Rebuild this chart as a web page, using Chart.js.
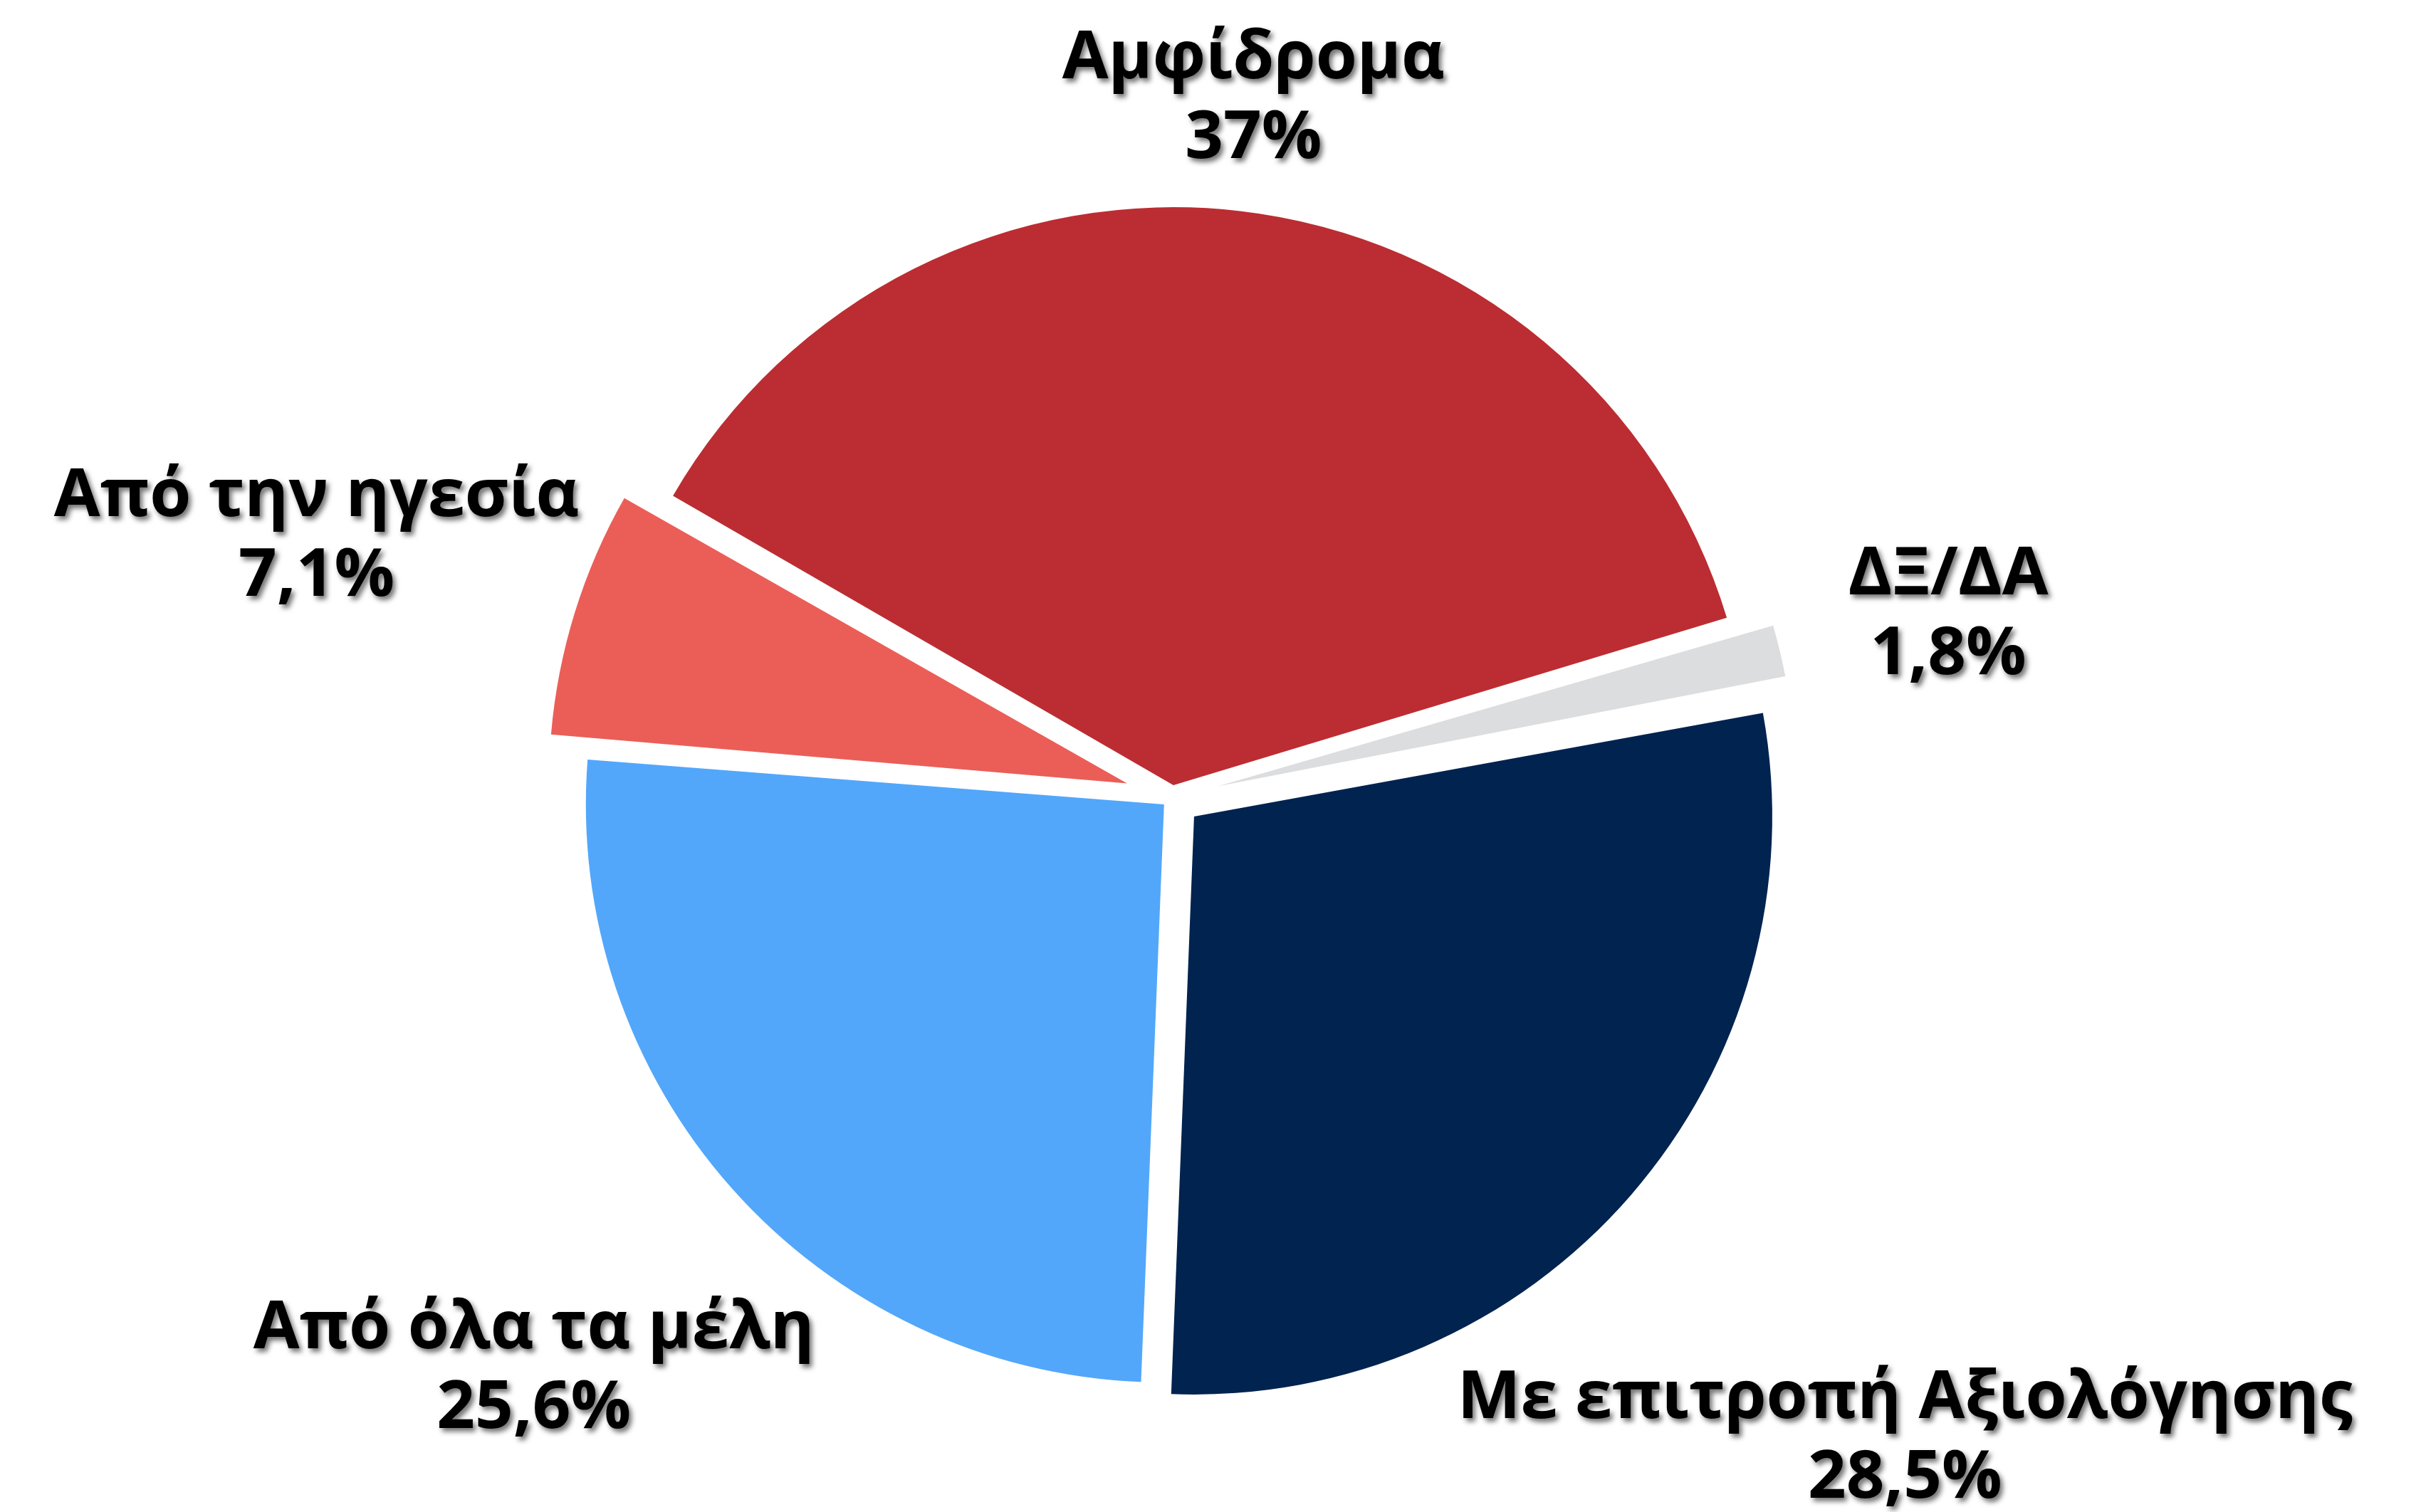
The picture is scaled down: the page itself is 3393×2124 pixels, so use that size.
<!DOCTYPE html>
<html>
<head>
<meta charset="utf-8">
<script src="https://cdn.jsdelivr.net/npm/chart.js@4.4.1/dist/chart.umd.min.js"></script>
<style>
	html, body { margin: 0; padding: 0; background: #ffffff; }
	#wrap { width: 3393px; height: 2124px; }
</style>
</head>
<body>
<div id="wrap"><canvas id="myChart" width="3393" height="2124"></canvas></div>
<script>
// Data
const categories = ["Αμφίδρομα", "ΔΞ/ΔΑ", "Με επιτροπή Αξιολόγησης", "Από όλα τα μέλη", "Από την ηγεσία"];
const shares = [37, 1.8, 28.5, 25.6, 7.1];
const shareLabels = ["37%", "1,8%", "28,5%", "25,6%", "7,1%"];

// Styles
const sliceColors = ["#BB2D32", "#DCDDDF", "#012350", "#52A7FA", "#EB5E58"];
const explode = [17, 66, 41, 15, 66]; // how far each slice is pulled out (px)
const labelDistance = [1.224, 1.381, 1.679, 1.477, 1.549]; // label centre, in radii from the pie centre

const PIE_RADIUS = 812;
const OFFSET_DIV = 4; // Chart.js v4 draws arcs with offset / 4
const FONT = "bold 94px 'Open Sans', 'Noto Sans', sans-serif";
const CAP_HEIGHT = 67;
const LINE_PITCH = 112;

const ctx = document.getElementById("myChart").getContext("2d");

// --------------------------- Keep exploded slices at the same radius ---------------------------
const radiusFix = {
	id: "radiusFix",
	beforeDatasetsDraw(chart) {
		const meta = chart.getDatasetMeta(0);
		meta.data.forEach((arc, i) => {
			const offset = (explode[i] * OFFSET_DIV) / OFFSET_DIV;
			const fix = 1 - Math.sin(Math.min(Math.PI, arc.circumference || 0));
			arc.outerRadius = PIE_RADIUS - offset * fix;
		});
	},
};

// --------------------------- Outside labels with a drop shadow ---------------------------
const sliceLabels = {
	id: "sliceLabels",
	afterDatasetsDraw(chart) {
		const c = chart.ctx;
		const meta = chart.getDatasetMeta(0);
		c.save();
		c.font = FONT;
		c.fillStyle = "#000000";
		c.textAlign = "center";
		c.textBaseline = "alphabetic";
		c.shadowColor = "rgba(0, 0, 0, 0.55)";
		c.shadowBlur = 7;
		c.shadowOffsetX = 4;
		c.shadowOffsetY = 5;
		meta.data.forEach((arc, i) => {
			const mid = (arc.startAngle + arc.endAngle) / 2;
			const r = PIE_RADIUS * labelDistance[i];
			const cx = arc.x + Math.cos(mid) * r;
			const cy = arc.y + Math.sin(mid) * r;
			const top = cy - (CAP_HEIGHT + LINE_PITCH) / 2;
			c.fillText(categories[i], cx, top + CAP_HEIGHT);
			c.fillText(shareLabels[i], cx, top + CAP_HEIGHT + LINE_PITCH);
		});
		c.restore();
	},
};

// --------------------------- Chart Object ---------------------------
const pieChart = new Chart(ctx, {
	type: "pie",
	data: {
		labels: categories,
		datasets: [
			{
				data: shares,
				backgroundColor: sliceColors,
				borderWidth: 0,
				offset: explode.map((v) => v * OFFSET_DIV),
				radius: PIE_RADIUS,
			},
		],
	},
	options: {
		responsive: false,
		devicePixelRatio: 1,
		animation: false,
		events: [],
		rotation: -60,
		layout: {
			padding: { left: 0, right: 101, top: 116, bottom: 0 },
		},
		plugins: {
			legend: { display: false },
			tooltip: { enabled: false },
		},
	},
	plugins: [radiusFix, sliceLabels],
});
</script>
</body>
</html>
